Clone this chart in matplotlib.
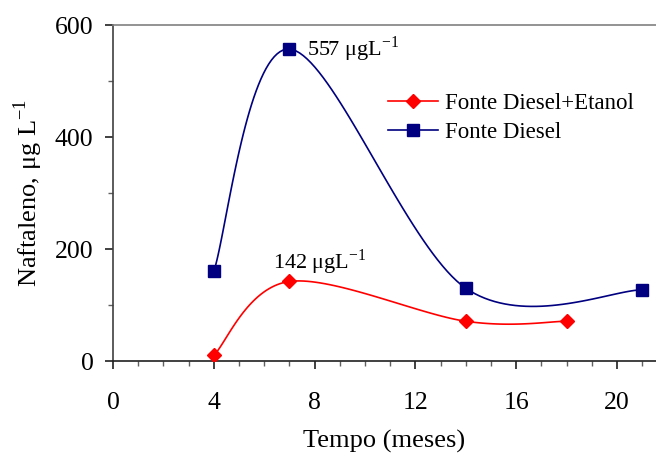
import numpy as np
import matplotlib
matplotlib.use("Agg")
import matplotlib.pyplot as plt
from matplotlib.ticker import MultipleLocator

# Data
meses_etanol = [4, 7, 14, 18]
naft_etanol = [10, 142, 71, 71]
meses_diesel = [4, 7, 14, 21]
naft_diesel = [160, 557, 130, 127]
label_etanol = "Fonte Diesel+Etanol"
label_diesel = "Fonte Diesel"
x_ticks = [0, 4, 8, 12, 16, 20]
y_ticks = [0, 200, 400, 600]


def excel_smooth(xs, ys, n=40):
    """Bezier smoothing like a spreadsheet 'smoothed line' through the data points."""
    P = np.column_stack([xs, ys]).astype(float)
    m = len(P)
    out = []
    for i in range(m - 1):
        p0 = P[i]
        p3 = P[i + 1]
        pm = P[i - 1] if i > 0 else P[i]
        pp = P[i + 2] if i + 2 < m else P[i + 1]
        c1 = p0 + (p3 - pm) / 6.0
        c2 = p3 - (pp - p0) / 6.0
        t = np.linspace(0, 1, n)[:, None]
        seg = ((1 - t) ** 3) * p0 + 3 * ((1 - t) ** 2) * t * c1 + 3 * (1 - t) * t ** 2 * c2 + t ** 3 * p3
        out.append(seg if i == 0 else seg[1:])
    s = np.vstack(out)
    return s[:, 0], s[:, 1]


plt.rcParams['font.family'] = ['Liberation Serif', 'DejaVu Serif']
plt.rcParams['mathtext.fontset'] = 'custom'
plt.rcParams['mathtext.rm'] = 'Liberation Serif'

fig = plt.figure(figsize=(6.56, 4.59), dpi=100)
ax = fig.add_axes([113 / 656, 1 - 361 / 459, 1 - 113 / 656, 336 / 459])

red = '#FF0000'
navy = '#000080'

sx, sy = excel_smooth(meses_etanol, naft_etanol)
ax.plot(sx, sy, color=red, lw=1.2, zorder=3)
ax.plot(meses_etanol, naft_etanol, linestyle='none', marker='D', ms=6.8,
        color=red, zorder=4)
sx, sy = excel_smooth(meses_diesel, naft_diesel)
ax.plot(sx, sy, color=navy, lw=1.2, zorder=3)
ax.plot(meses_diesel, naft_diesel, linestyle='none', marker='s', ms=8.2,
        color=navy, zorder=4)

# legend proxies
ax.plot([], [], color=red, lw=1.2, marker='D', ms=6.8, label=label_etanol)
ax.plot([], [], color=navy, lw=1.2, marker='s', ms=8.2, label=label_diesel)

ax.set_xlim(0, 21.55)
ax.set_ylim(0, 600)
ax.set_xticks(x_ticks)
ax.set_yticks(y_ticks)
ax.xaxis.set_minor_locator(MultipleLocator(1))
ax.yaxis.set_minor_locator(MultipleLocator(100))

ax.tick_params(axis='both', which='major', direction='out', length=6, width=1.2,
               color='#202020', labelsize=18.5)
ax.tick_params(axis='both', which='minor', direction='out', length=3.5, width=1.0,
               color='#606060')
ax.tick_params(axis='x', which='major', pad=16)
ax.tick_params(axis='y', which='major', pad=8)

ax.spines['right'].set_visible(False)
ax.spines['top'].set_color('#808080')
ax.spines['top'].set_linewidth(1.2)
ax.spines['left'].set_color('#404040')
ax.spines['left'].set_linewidth(1.2)
ax.spines['bottom'].set_color('#202020')
ax.spines['bottom'].set_linewidth(1.2)

ax.set_xlabel('Tempo (meses)', fontsize=19, labelpad=12)
ax.set_ylabel(r'Naftaleno, μg L$^{\mathregular{-1}}$', fontsize=19, labelpad=7)

ax.annotate(r'557 μgL$^{\mathregular{-1}}$', xy=(7, 557), xytext=(13, 0),
            textcoords='offset points', fontsize=16, va='center', ha='left')
ax.annotate(r'142 μgL$^{\mathregular{-1}}$', xy=(7, 142), xytext=(-12, 9),
            textcoords='offset points', fontsize=16, va='baseline', ha='left')

leg = ax.legend(loc='upper left', bbox_to_anchor=(0.489, 0.825), frameon=False,
                fontsize=16.5, handlelength=2.2, handletextpad=0.3,
                labelspacing=0.35, borderaxespad=0)

fig.savefig('out.png', dpi=100)
